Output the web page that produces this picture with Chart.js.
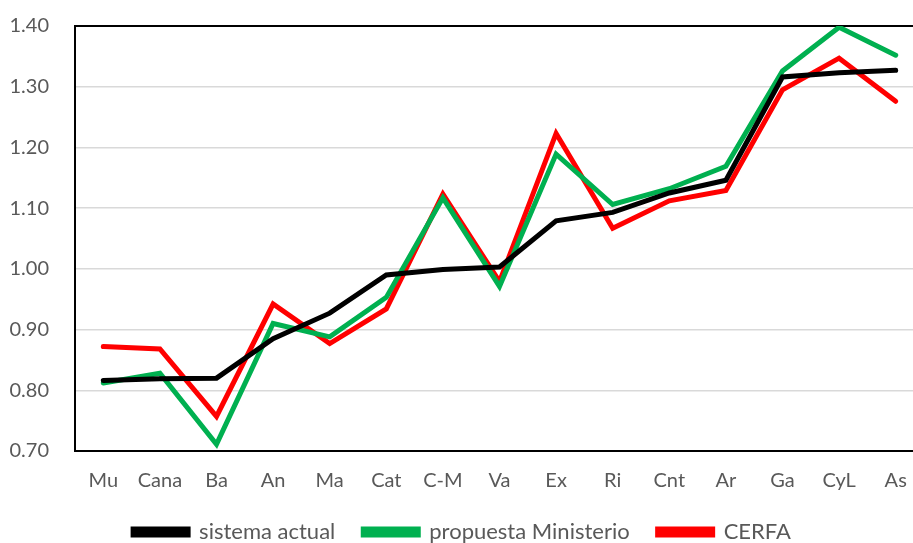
<!DOCTYPE html>
<html>
<head>
<meta charset="utf-8">
<script src="https://cdn.jsdelivr.net/npm/chart.js@4/dist/chart.umd.min.js"></script>
<style>
  html, body { margin: 0; padding: 0; background: #fff; overflow: hidden; }
  #wrap { width: 930px; height: 565px; margin-top: -12px; }
</style>
</head>
<body>
<div id="wrap"><canvas id="c" width="930" height="565"></canvas></div>
<script>
// Regions
const categories = ["Mu", "Cana", "Ba", "An", "Ma", "Cat", "C-M", "Va", "Ex", "Ri", "Cnt", "Ar", "Ga", "CyL", "As"];

// Index values per region
const sistemaActual = [0.816, 0.819, 0.820, 0.885, 0.927, 0.990, 0.999, 1.003, 1.079, 1.093, 1.125, 1.146, 1.316, 1.323, 1.327];
const propuestaMinisterio = [0.812, 0.828, 0.711, 0.910, 0.888, 0.953, 1.117, 0.971, 1.189, 1.106, 1.132, 1.169, 1.326, 1.398, 1.352];
const cerfa = [0.872, 0.868, 0.757, 0.942, 0.877, 0.934, 1.123, 0.979, 1.223, 1.067, 1.112, 1.129, 1.295, 1.347, 1.276];

const seriesNames = ["sistema actual", "propuesta Ministerio", "CERFA"];
const seriesColors = ["#000000", "#00B050", "#FF0000"];

const FONT = "Lato, 'Open Sans', sans-serif";
const GREY = "#595959";

function makeSet(label, data, color) {
  return {
    label, data,
    borderColor: color,
    backgroundColor: color,
    borderWidth: 5,
    pointRadius: 0,
    pointHoverRadius: 0,
    tension: 0,
    borderCapStyle: "round",
    borderJoinStyle: "miter"
  };
}

new Chart(document.getElementById("c"), {
  type: "line",
  data: {
    labels: categories,
    datasets: [
      makeSet(seriesNames[0], sistemaActual, seriesColors[0]),
      makeSet(seriesNames[1], propuestaMinisterio, seriesColors[1]),
      makeSet(seriesNames[2], cerfa, seriesColors[2])
    ]
  },
  options: {
    responsive: false,
    animation: false,
    events: [],
    layout: { padding: { top: 17, right: 6, left: 0, bottom: 0 } },
    plugins: {
      tooltip: { enabled: false },
      legend: {
        position: "bottom",
        align: "center",
        labels: {
          color: GREY,
          font: { family: FONT, size: 22 },
          boxWidth: 55,
          boxHeight: 6,
          padding: 28
        }
      }
    },
    scales: {
      x: {
        offset: true,
        grid: { display: false, drawTicks: false },
        border: { display: true, color: "#000000", width: 2 },
        ticks: {
          color: GREY,
          font: { family: FONT, size: 20 },
          padding: 18,
          maxRotation: 0,
          autoSkip: false
        },
        afterFit(scale) { scale.height = 42; }
      },
      y: {
        min: 0.70,
        max: 1.40,
        grid: {
          drawTicks: false,
          color: (ctx) => (ctx.tick && Math.abs(ctx.tick.value - 1.4) < 1e-6) ? "#000000" : "#D9D9D9",
          lineWidth: (ctx) => (ctx.tick && Math.abs(ctx.tick.value - 1.4) < 1e-6) ? 2 : 1.5
        },
        border: { display: true, color: "#000000", width: 2 },
        ticks: {
          stepSize: 0.1,
          color: GREY,
          font: { family: FONT, size: 20 },
          padding: 26,
          callback: (v) => Number(v).toFixed(2)
        },
        afterFit(scale) { scale.width = 75; }
      }
    }
  }
});
</script>
</body>
</html>
